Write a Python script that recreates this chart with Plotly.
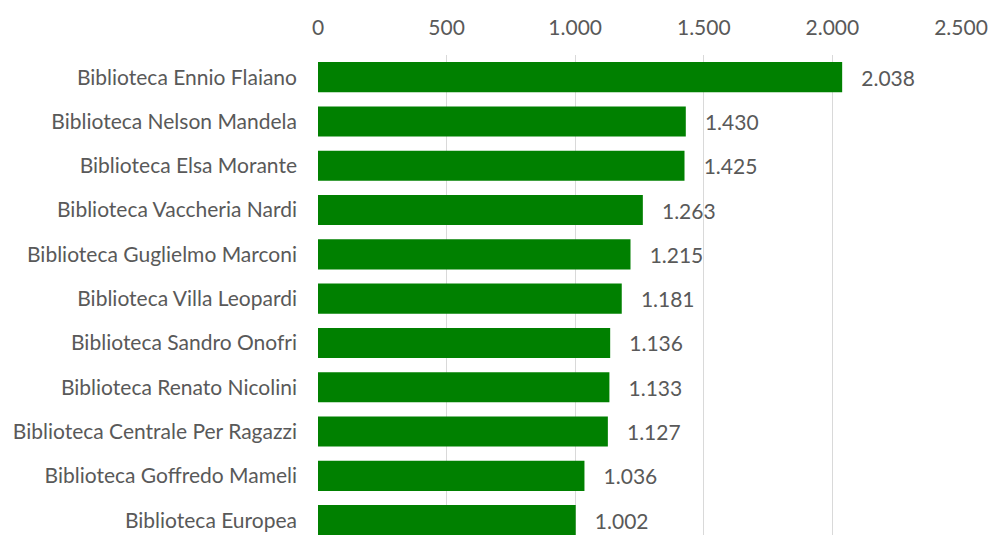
import plotly.graph_objects as go

categories = [
    "Biblioteca Ennio Flaiano",
    "Biblioteca Nelson Mandela",
    "Biblioteca Elsa Morante",
    "Biblioteca Vaccheria Nardi",
    "Biblioteca Guglielmo Marconi",
    "Biblioteca Villa Leopardi",
    "Biblioteca Sandro Onofri",
    "Biblioteca Renato Nicolini",
    "Biblioteca Centrale Per Ragazzi",
    "Biblioteca Goffredo Mameli",
    "Biblioteca Europea",
]
values = [2038, 1430, 1425, 1263, 1215, 1181, 1136, 1133, 1127, 1036, 1002]
tick_values = [0, 500, 1000, 1500, 2000, 2500]

FONT = "Lato, Carlito, Calibri, sans-serif"
GRAY = "#595959"
FS = 21

fig = go.Figure(
    go.Bar(
        x=values,
        y=categories,
        orientation="h",
        marker=dict(color="#008000", line=dict(width=0)),
        texttemplate="\u00a0\u00a0\u00a0%{x:,}",
        textposition="outside",
        textfont=dict(family=FONT, size=FS, color=GRAY),
        cliponaxis=False,
        width=0.68,
    )
)

fig.update_layout(
    width=988,
    height=535,
    margin=dict(l=318, r=27, t=55, b=0, autoexpand=False),
    paper_bgcolor="white",
    plot_bgcolor="white",
    separators=",.",
    showlegend=False,
    font=dict(family=FONT, size=FS, color=GRAY),
    xaxis=dict(
        side="top",
        range=[0, 2500],
        tickvals=tick_values,
        tickformat=",d",
        showgrid=True,
        gridcolor="#d9d9d9",
        gridwidth=1,
        zeroline=False,
        showline=False,
        ticks="",
        automargin=False,
        ticklabelstandoff=15,
        tickfont=dict(family=FONT, size=FS, color=GRAY),
    ),
    yaxis=dict(
        categoryorder="array",
        categoryarray=categories,
        range=[10.335, -0.5],
        showgrid=False,
        zeroline=False,
        showline=False,
        ticks="",
        automargin=False,
        ticklabelstandoff=20,
        tickfont=dict(family=FONT, size=FS, color=GRAY),
    ),
)

fig.write_html(
    "out.html",
    config={"displayModeBar": False},
    post_script="document.body.style.margin='0';document.body.style.overflow='hidden';",
)
